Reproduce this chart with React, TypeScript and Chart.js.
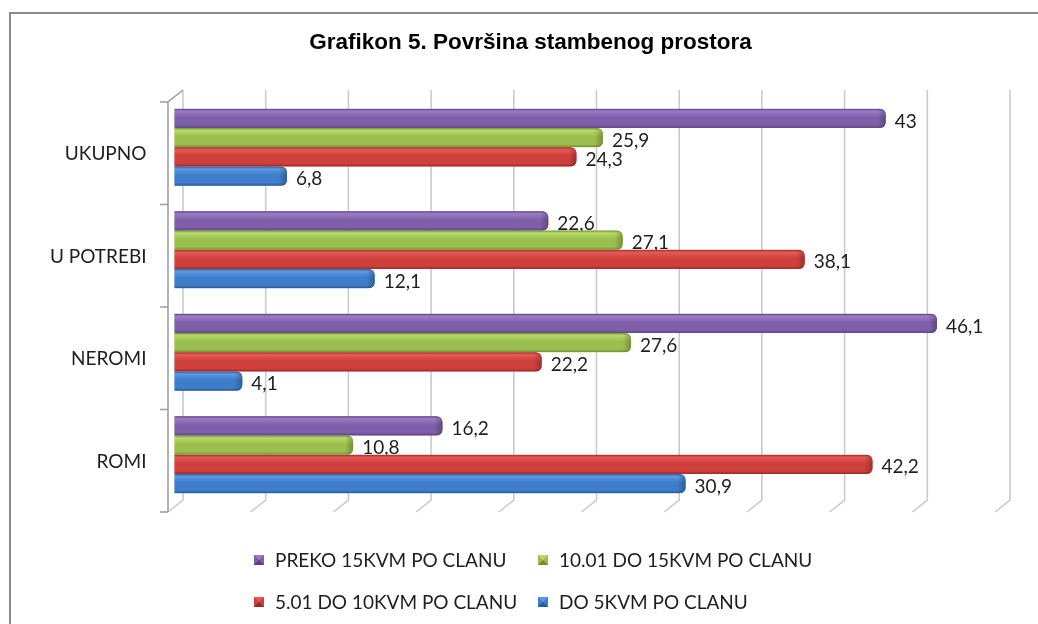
import React, { useEffect, useRef } from "react";
import { Chart, registerables } from "chart.js";

Chart.register(...registerables);

const titleText = "Grafikon 5. Površina stambenog prostora";
const categories = ["UKUPNO", "U POTREBI", "NEROMI", "ROMI"];
const seriesNames = [
  "PREKO 15KVM PO CLANU",
  "10.01 DO 15KVM PO CLANU",
  "5.01 DO 10KVM PO CLANU",
  "DO 5KVM PO CLANU",
];
const preko15 = [43, 22.6, 46.1, 16.2];
const od10do15 = [25.9, 27.1, 27.6, 10.8];
const od5do10 = [24.3, 38.1, 22.2, 42.2];
const do5 = [6.8, 12.1, 4.1, 30.9];
const axisMin = 0;
const axisMax = 50;
const gridStep = 5;

const palette = [
  { light: "#9A7DC6", mid: "#7F5FA9", dark: "#5A4280" },
  { light: "#B6DB68", mid: "#9BBE4F", dark: "#6C8E2C" },
  { light: "#E65A56", mid: "#CF403D", dark: "#962826" },
  { light: "#5A9BE2", mid: "#3D7DC9", dark: "#2A5995" },
];

const FONT = "Lato, 'Open Sans', sans-serif";
const BACK = { dx: 8.5, dy: -6 };
const FRONT = { dx: -6.5, dy: 6 };

function fmt(v: number) {
  return String(v).replace(".", ",");
}

function roundedRight(ctx: CanvasRenderingContext2D, l: number, t: number, r: number, b: number, rad: number) {
  const rr = Math.min(rad, (b - t) / 2, Math.max(0, r - l));
  ctx.beginPath();
  ctx.moveTo(l, t);
  ctx.lineTo(r - rr, t);
  ctx.quadraticCurveTo(r, t, r, t + rr);
  ctx.lineTo(r, b - rr);
  ctx.quadraticCurveTo(r, b, r - rr, b);
  ctx.lineTo(l, b);
  ctx.closePath();
}

const decoPlugin = {
  id: "deco",
  beforeDraw(chart: any) {
    const ctx = chart.ctx as CanvasRenderingContext2D;
    ctx.save();
    ctx.fillStyle = "#ffffff";
    ctx.fillRect(0, 0, chart.width, chart.height);
    ctx.strokeStyle = "#8A8A8A";
    ctx.lineWidth = 2;
    ctx.strokeRect(10, 13, chart.width + 40, chart.height + 40);
    ctx.restore();
  },
  beforeDatasetsDraw(chart: any) {
    const ctx = chart.ctx as CanvasRenderingContext2D;
    const xs = chart.scales.x;
    const ca = chart.chartArea;
    ctx.save();
    ctx.strokeStyle = "#CBCBCB";
    ctx.lineWidth = 1.6;
    for (let v = axisMin; v <= axisMax; v += gridStep) {
      const px = xs.getPixelForValue(v);
      ctx.beginPath();
      ctx.moveTo(px + BACK.dx, ca.top + BACK.dy);
      ctx.lineTo(px + BACK.dx, ca.bottom + BACK.dy);
      ctx.lineTo(px + FRONT.dx, ca.bottom + FRONT.dy);
      ctx.stroke();
    }
    const x0 = xs.getPixelForValue(axisMin);
    ctx.strokeStyle = "#A0A0A0";
    ctx.lineWidth = 1.6;
    ctx.beginPath();
    ctx.moveTo(x0 + BACK.dx, ca.top + BACK.dy);
    ctx.lineTo(x0 + FRONT.dx, ca.top + FRONT.dy);
    ctx.lineTo(x0 + FRONT.dx, ca.bottom + FRONT.dy);
    ctx.stroke();
    const n = categories.length;
    const step = (ca.bottom - ca.top) / n;
    for (let k = 0; k <= n; k++) {
      const yb = ca.top + k * step + FRONT.dy;
      ctx.beginPath();
      ctx.moveTo(x0 + FRONT.dx - 8, yb);
      ctx.lineTo(x0 + FRONT.dx, yb);
      ctx.stroke();
    }
    ctx.restore();
  },
  afterDatasetsDraw(chart: any) {
    const ctx = chart.ctx as CanvasRenderingContext2D;
    ctx.save();
    chart.data.datasets.forEach((ds: any, di: number) => {
      const meta = chart.getDatasetMeta(di);
      const col = palette[di];
      meta.data.forEach((el: any, i: number) => {
        const p = el.getProps(["x", "y", "base", "height"], true);
        const t = p.y - p.height / 2;
        const b = p.y + p.height / 2;
        const g = ctx.createLinearGradient(0, t, 0, b);
        g.addColorStop(0, col.dark);
        g.addColorStop(0.12, col.light);
        g.addColorStop(0.45, col.mid);
        g.addColorStop(0.85, col.mid);
        g.addColorStop(1, col.dark);
        roundedRight(ctx, p.base, t + 0.3, p.x, b - 0.3, 6);
        ctx.fillStyle = g;
        ctx.fill();
        ctx.save();
        roundedRight(ctx, p.base, t + 0.3, p.x, b - 0.3, 6);
        ctx.clip();
        const g2 = ctx.createLinearGradient(p.x - 8, 0, p.x, 0);
        g2.addColorStop(0, "rgba(0,0,0,0)");
        g2.addColorStop(1, "rgba(0,0,0,0.25)");
        ctx.fillStyle = g2;
        ctx.fillRect(p.x - 8, t, 8, b - t);
        ctx.restore();
        ctx.fillStyle = "#1E1E1E";
        ctx.font = `19px ${FONT}`;
        ctx.textAlign = "left";
        ctx.textBaseline = "middle";
        ctx.fillText(fmt(ds.data[i]), p.x + 9, p.y + 3);
      });
    });
    ctx.restore();
  },
  afterDraw(chart: any) {
    const ctx = chart.ctx as CanvasRenderingContext2D;
    ctx.save();
    ctx.fillStyle = "#000000";
    ctx.font = "bold 22.5px 'Liberation Sans', Arial, sans-serif";
    ctx.textAlign = "center";
    ctx.textBaseline = "middle";
    ctx.fillText(titleText, 530.5, 43);
    const cols = [254, 538];
    const rows = [560, 602];
    chart.data.datasets.forEach((ds: any, di: number) => {
      const cx = cols[di % 2];
      const cy = rows[Math.floor(di / 2)];
      const col = palette[di];
      const s = 10;
      const l = cx, t = cy - s / 2;
      ctx.fillStyle = col.mid;
      ctx.fillRect(l, t, s, s);
      ctx.fillStyle = col.light;
      ctx.beginPath();
      ctx.moveTo(l, t);
      ctx.lineTo(l + s, t);
      ctx.lineTo(l + s / 2, t + s / 2);
      ctx.closePath();
      ctx.fill();
      ctx.fillStyle = col.dark;
      ctx.beginPath();
      ctx.moveTo(l, t + s);
      ctx.lineTo(l + s, t + s);
      ctx.lineTo(l + s / 2, t + s / 2);
      ctx.closePath();
      ctx.fill();
      ctx.fillStyle = "#1E1E1E";
      ctx.font = `19px ${FONT}`;
      ctx.textAlign = "left";
      ctx.textBaseline = "middle";
      ctx.fillText(ds.label, cx + 21, cy + 1);
    });
    ctx.restore();
  },
};

export default function App() {
  const ref = useRef<HTMLCanvasElement | null>(null);
  useEffect(() => {
    document.body.style.margin = "0";
    if (!ref.current) return;
    const series = [preko15, od10do15, od5do10, do5];
    const chart = new Chart(ref.current, {
      type: "bar",
      data: {
        labels: categories,
        datasets: series.map((d, i) => ({
          label: seriesNames[i],
          data: d,
          backgroundColor: palette[i].mid,
          borderWidth: 0,
          borderRadius: { topRight: 6, bottomRight: 6 },
          borderSkipped: "start" as const,
          categoryPercentage: 0.75,
          barPercentage: 1.0,
        })),
      },
      options: {
        indexAxis: "y",
        responsive: false,
        animation: false,
        layout: { padding: { left: 0, right: 36.5, top: 96, bottom: 118 } },
        plugins: {
          legend: { display: false },
          title: { display: false },
          tooltip: { enabled: false },
        },
        scales: {
          x: {
            display: false,
            min: axisMin,
            max: axisMax,
            ticks: { stepSize: gridStep },
          },
          y: {
            grid: { display: false, drawTicks: false },
            border: { display: false },
            ticks: {
              color: "#1E1E1E",
              font: { family: FONT, size: 19 },
              padding: 28,
              labelOffset: 7,
            },
            afterFit(scale: any) {
              scale.width = 174.5;
            },
          },
        },
      },
      plugins: [decoPlugin],
    });
    return () => chart.destroy();
  }, []);
  return (
    <div style={{ position: "absolute", left: 0, top: 0, width: 1038, height: 624 }}>
      <canvas ref={ref} width={1038} height={624} style={{ width: 1038, height: 624, display: "block" }} />
    </div>
  );
}
